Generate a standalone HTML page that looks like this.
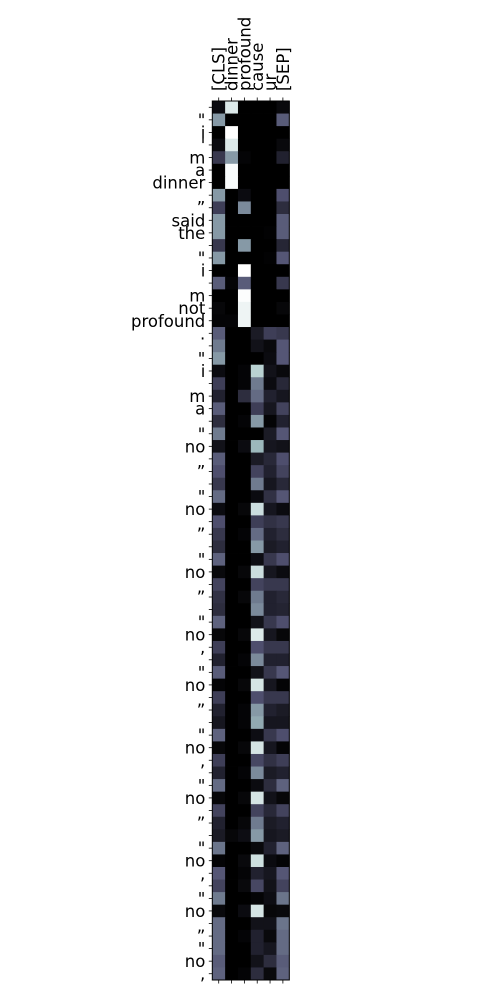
<!DOCTYPE html>
<html><head><meta charset="utf-8"><style>
html,body{margin:0;padding:0;background:#fff;width:500px;height:1000px;overflow:hidden}
svg text{font-family:"DejaVu Sans","Liberation Sans",sans-serif;font-size:16.5px;fill:#000}
</style></head>
<body>
<svg id="chart" width="500" height="1000" xmlns="http://www.w3.org/2000/svg"></svg>
<script>
const colLabels = ["[CLS]","dinner","profound","cause","ur","[SEP]"];
const rowLabels = ["","\"","i","'","m","a","dinner","","\u201d","said","the","","\"","i","","m","not","profound",".","","\"","i","","m","a","","\"","no","","\u201d","","\"","no","","\u201d","","\"","no","","\u201d","","\"","no",",","","\"","no","","\u201d","","\"","no",",","","\"","no","","\u201d","","\"","no",",","","\"","no","","\u201d","\"","no",","];
const values = [
[0.05,0.9,0,0,0,0.04],[0.6,0,0,0,0,0.4],[0,1,0,0,0,0],[0.05,0.9,0,0,0,0.04],
[0.25,0.6,0.02,0,0,0.15],[0,0.98,0,0,0,0],[0,0.98,0,0,0,0],[0.6,0,0.05,0,0,0.35],
[0.28,0,0.55,0,0,0.2],[0.6,0,0,0,0,0.4],[0.6,0,0,0,0.01,0.4],[0.25,0,0.6,0,0,0.17],
[0.6,0,0,0,0.01,0.38],[0,0,1,0,0,0],[0.4,0.02,0.4,0,0,0.25],[0,0,0.99,0,0,0],
[0.03,0,0.95,0,0,0.03],[0.02,0.02,0.95,0,0,0],[0.4,0,0,0.12,0.28,0.25],[0.5,0,0,0.08,0.04,0.38],
[0.6,0,0,0,0.05,0.38],[0.05,0,0.02,0.8,0.08,0.04],[0.28,0,0.02,0.5,0.05,0.18],[0.15,0,0.2,0.45,0.15,0.1],
[0.4,0,0,0.28,0.1,0.3],[0.2,0,0.02,0.6,0.02,0.15],[0.5,0,0,0,0.12,0.38],[0.08,0,0.05,0.7,0.1,0.08],
[0.4,0,0,0.12,0.18,0.35],[0.35,0,0,0.3,0.15,0.3],[0.25,0,0,0.5,0.1,0.18],[0.45,0,0,0.05,0.22,0.38],
[0.05,0,0.03,0.85,0.1,0.05],[0.35,0,0,0.28,0.22,0.25],[0.25,0,0.02,0.45,0.15,0.2],[0.2,0,0,0.6,0.12,0.15],
[0.42,0,0,0.06,0.25,0.35],[0.04,0,0.03,0.85,0.1,0.05],[0.3,0,0,0.3,0.25,0.25],[0.22,0,0.03,0.5,0.15,0.18],
[0.2,0,0,0.55,0.15,0.16],[0.42,0,0,0.08,0.25,0.35],[0.03,0,0.03,0.9,0.1,0.03],[0.28,0,0,0.35,0.25,0.25],
[0.15,0,0.02,0.55,0.15,0.15],[0.4,0,0,0.08,0.25,0.38],[0.02,0,0.03,0.88,0.1,0.02],[0.28,0,0,0.35,0.25,0.25],
[0.15,0,0.02,0.6,0.15,0.12],[0.1,0,0.02,0.65,0.1,0.1],[0.42,0,0,0.06,0.25,0.35],[0.03,0,0.03,0.88,0.1,0.02],
[0.28,0,0,0.32,0.22,0.28],[0.15,0,0.02,0.55,0.12,0.15],[0.45,0,0,0.05,0.2,0.42],[0.03,0,0.03,0.88,0.08,0.03],
[0.3,0,0,0.3,0.18,0.3],[0.15,0,0.03,0.5,0.12,0.15],[0.12,0.03,0.06,0.6,0.1,0.12],[0.48,0,0,0.04,0.15,0.42],
[0.02,0,0.04,0.86,0.05,0.02],[0.38,0,0.02,0.15,0.1,0.38],[0.3,0,0.04,0.32,0.08,0.3],[0.5,0,0,0.02,0.06,0.48],
[0.04,0,0.05,0.88,0.03,0.04],[0.45,0,0,0.08,0.08,0.48],[0.45,0,0.02,0.15,0.04,0.45],[0.45,0,0,0.15,0.1,0.45],
[0.4,0,0,0.08,0.2,0.4],[0.42,0,0.02,0.2,0.04,0.42]
];

const NS = "http://www.w3.org/2000/svg";
const svg = document.getElementById("chart");
const X0 = 212.3, X1 = 289.3, Y0 = 101, Y1 = 980;
const cw = (X1 - X0) / colLabels.length;
const rh = (Y1 - Y0) / rowLabels.length;
const xPos = c => X0 + c * cw;
const yPos = r => Y0 + r * rh;

function interp(pts, v) {
  for (let i = 1; i < pts.length; i++) {
    if (v <= pts[i][0]) {
      const [a, ya] = pts[i-1], [b, yb] = pts[i];
      return ya + (yb - ya) * (v - a) / (b - a);
    }
  }
  return pts[pts.length-1][1];
}
function bone(v) {
  v = Math.max(0, Math.min(1, v));
  const r = interp([[0,0],[0.746,0.652],[1,1]], v);
  const g = interp([[0,0],[0.365,0.319],[0.746,0.777],[1,1]], v);
  const b = interp([[0,0],[0.365,0.444],[1,1]], v);
  return `rgb(${Math.round(r*255)},${Math.round(g*255)},${Math.round(b*255)})`;
}
function mk(tag, attrs) {
  const e = document.createElementNS(NS, tag);
  for (const k in attrs) e.setAttribute(k, attrs[k]);
  svg.appendChild(e);
  return e;
}

values.forEach((row, r) => {
  row.forEach((v, c) => {
    const e = mk("rect", {x: xPos(c), y: yPos(r), width: cw + 0.4, height: rh + 0.4, fill: bone(v)});
    
    
  });
});

const frame = mk("rect", {x: X0, y: Y0, width: X1 - X0, height: Y1 - Y0, fill: "none", stroke: "#000", "stroke-width": 1});



colLabels.forEach((lab, c) => {
  const cx = xPos(c) + cw / 2;
  const t1 = mk("line", {x1: cx, x2: cx, y1: Y0, y2: Y0 - 3.5, stroke: "#000", "stroke-width": 0.8});
  
  
  const t2 = mk("line", {x1: cx, x2: cx, y1: Y1, y2: Y1 + 3.5, stroke: "#000", "stroke-width": 0.8});
  
  
  const tx = mk("text", {x: 0, y: 0, "text-anchor": "start", transform: `translate(${cx + 6},${Y0 - 10}) rotate(-90)`});
  tx.textContent = lab;
  
  
});

rowLabels.forEach((lab, r) => {
  const cy = yPos(r) + rh / 2;
  const t = mk("line", {x1: X0, x2: X0 - 3.5, y1: cy, y2: cy, stroke: "#000", "stroke-width": 0.8});
  
  
  const tx = mk("text", {x: X0 - 7, y: cy + 6, "text-anchor": "end"});
  tx.textContent = lab;
  
  
});
</script>
</body></html>
